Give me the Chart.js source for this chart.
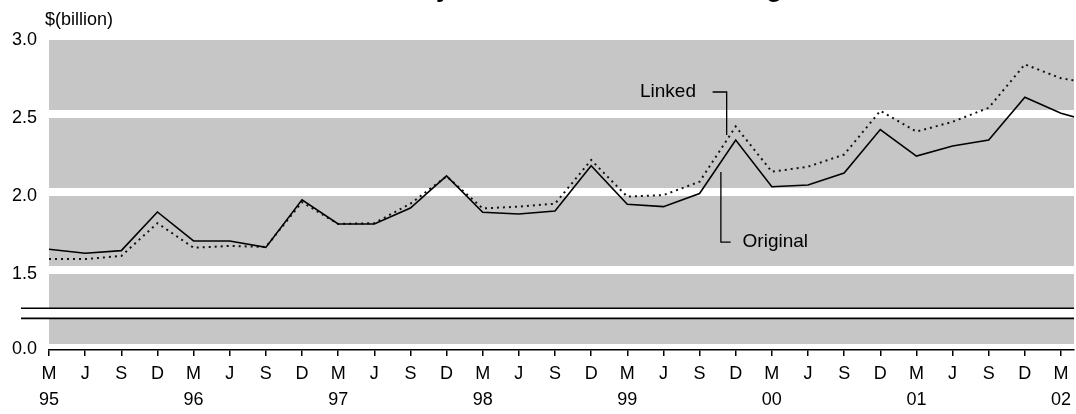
<!DOCTYPE html>
<html lang="en">

<head>
  <meta charset="UTF-8">
  <title>Linked vs Original</title>
  <script src="https://cdn.jsdelivr.net/npm/chart.js"></script>
  <style>
    html, body { margin: 0; padding: 0; background: #fff; }
    #grafico { display: block; }
  </style>
</head>

<body>
  <canvas id="grafico" width="1076" height="414"></canvas>

  <script>
// dados (trimestres mar/jun/set/dez)
const trimestres = ['Mar-95','Jun-95','Sep-95','Dec-95','Mar-96','Jun-96','Sep-96','Dec-96',
  'Mar-97','Jun-97','Sep-97','Dec-97','Mar-98','Jun-98','Sep-98','Dec-98',
  'Mar-99','Jun-99','Sep-99','Dec-99','Mar-00','Jun-00','Sep-00','Dec-00',
  'Mar-01','Jun-01','Sep-01','Dec-01','Mar-02','Jun-02']
const original = [1.633, 1.607, 1.624, 1.872, 1.686, 1.686, 1.645, 1.950,
  1.795, 1.795, 1.897, 2.103, 1.870, 1.859, 1.878, 2.169,
  1.921, 1.906, 1.990, 2.333, 2.034, 2.045, 2.122, 2.400,
  2.230, 2.295, 2.333, 2.607, 2.505, 2.440]
const linked = [1.570, 1.570, 1.590, 1.800, 1.643, 1.654, 1.648, 1.935,
  1.795, 1.800, 1.925, 2.100, 1.895, 1.906, 1.925, 2.205,
  1.970, 1.980, 2.066, 2.420, 2.130, 2.162, 2.240, 2.520,
  2.387, 2.450, 2.540, 2.818, 2.729, 2.690]
const letrasMes = ['M', 'J', 'S', 'D']
const anos = ['95', '96', '97', '98', '99', '00', '01', '02']
const ticksY = [1.02, 1.5, 2.0, 2.5, 3.0]
const rotulosY = ['0.0', '1.5', '2.0', '2.5', '3.0']

// eixo quebrado: o "0.0" fica embaixo, a quebra entre estes dois valores
const quebra = [1.19, 1.255]
const fonte = '"Liberation Sans", Arial, sans-serif'

const fundoPlugin = {
  id: 'fundo',
  beforeDraw(chart) {
    const { ctx, chartArea } = chart
    ctx.save()
    ctx.fillStyle = '#c6c6c6'
    ctx.fillRect(chartArea.left, chartArea.top, chartArea.right - chartArea.left, chartArea.bottom - 6 - chartArea.top)
    ctx.restore()
  },
  afterDraw(chart) {
    const { ctx, chartArea } = chart
    const x = chart.scales.x
    const y = chart.scales.y
    ctx.save()

    // quebra do eixo
    var y1 = y.getPixelForValue(quebra[1])
    var y2 = y.getPixelForValue(quebra[0])
    ctx.fillStyle = '#fff'
    ctx.fillRect(chartArea.left, y1, chartArea.right - chartArea.left, y2 - y1)
    ctx.strokeStyle = '#000'
    ctx.lineWidth = 1.6
    ctx.beginPath()
    ctx.moveTo(21, y1); ctx.lineTo(chartArea.right, y1)
    ctx.moveTo(21, y2); ctx.lineTo(chartArea.right, y2)
    ctx.stroke()

    // linhas de chamada
    ctx.lineWidth = 1.3
    ctx.beginPath()
    ctx.moveTo(x.getPixelForValue(18.36), y.getPixelForValue(2.641))
    ctx.lineTo(x.getPixelForValue(18.75), y.getPixelForValue(2.641))
    ctx.lineTo(x.getPixelForValue(18.75), y.getPixelForValue(2.365))
    ctx.moveTo(x.getPixelForValue(18.59), y.getPixelForValue(2.128))
    ctx.lineTo(x.getPixelForValue(18.59), y.getPixelForValue(1.679))
    ctx.lineTo(x.getPixelForValue(18.86), y.getPixelForValue(1.679))
    ctx.stroke()

    ctx.fillStyle = '#000'
    ctx.font = '19px ' + fonte
    ctx.textBaseline = 'middle'
    ctx.textAlign = 'right'
    ctx.fillText('Linked', x.getPixelForValue(17.9), y.getPixelForValue(2.641))
    ctx.textAlign = 'left'
    ctx.fillText('Original', x.getPixelForValue(19.19), y.getPixelForValue(1.679))

    // unidade
    ctx.font = '18px ' + fonte
    ctx.fillText('$(billion)', 45, 20)

    // titulo (cortado no topo da imagem)
    var titulo = 'Monthly Turnover: Linked and Original Series'
    ctx.font = 'bold 26px ' + fonte
    ctx.textBaseline = 'alphabetic'
    var antes = ctx.measureText('Monthl').width
    ctx.fillText(titulo, 436 - antes, -3)

    ctx.restore()
  }
}

const ctx = document.getElementById('grafico').getContext('2d')
Chart.defaults.color = '#000'
Chart.defaults.font.family = fonte

var grafico = new Chart(ctx, {
  type: 'line',
  data: {
    labels: trimestres,
    datasets: [
      {
        label: 'Original',
        data: original.map((v, i) => ({ x: i, y: v })),
        borderColor: '#000',
        borderWidth: 1.6,
        pointRadius: 0,
        tension: 0,
        fill: false
      },
      {
        label: 'Linked',
        data: linked.map((v, i) => ({ x: i, y: v })),
        borderColor: '#111',
        borderWidth: 2,
        borderDash: [2, 4],
        pointRadius: 0,
        tension: 0,
        fill: false
      }
    ]
  },
  options: {
    responsive: false,
    animation: false,
    devicePixelRatio: 1,
    layout: { padding: { top: 36, left: 0, right: 0, bottom: 0 } },
    plugins: {
      legend: { display: false },
      tooltip: { enabled: false }
    },
    scales: {
      x: {
        type: 'linear',
        min: 0,
        max: 28.36,
        afterBuildTicks: s => { s.ticks = trimestres.slice(0, 29).map((t, i) => ({ value: i })) },
        afterFit: s => { s.height = 64 },
        grid: { display: true, drawOnChartArea: false, drawTicks: true, tickLength: 6, color: '#000', lineWidth: 1.5 },
        border: { display: true, color: '#000', width: 1.5 },
        ticks: {
          autoSkip: false,
          maxRotation: 0,
          padding: 5,
          font: { size: 18, lineHeight: 26 / 18 },
          callback: function (v) {
            var letra = letrasMes[v % 4]
            if (v % 4 === 0) return [letra, anos[v / 4]]
            return letra
          }
        }
      },
      y: {
        min: 3 - 314 / 156,
        max: 3.0,
        afterBuildTicks: s => { s.ticks = ticksY.map(v => ({ value: v })) },
        afterFit: s => { s.width = 49 },
        grid: {
          drawTicks: false,
          lineWidth: 8,
          color: c => (c.tick && c.tick.value === ticksY[0]) ? 'rgba(0,0,0,0)' : '#fff'
        },
        border: { display: false },
        ticks: {
          padding: 12,
          labelOffset: 4,
          font: { size: 18 },
          callback: function (v) { return rotulosY[ticksY.indexOf(v)] }
        }
      }
    }
  },
  plugins: [fundoPlugin]
})
  </script>
</body>

</html>
